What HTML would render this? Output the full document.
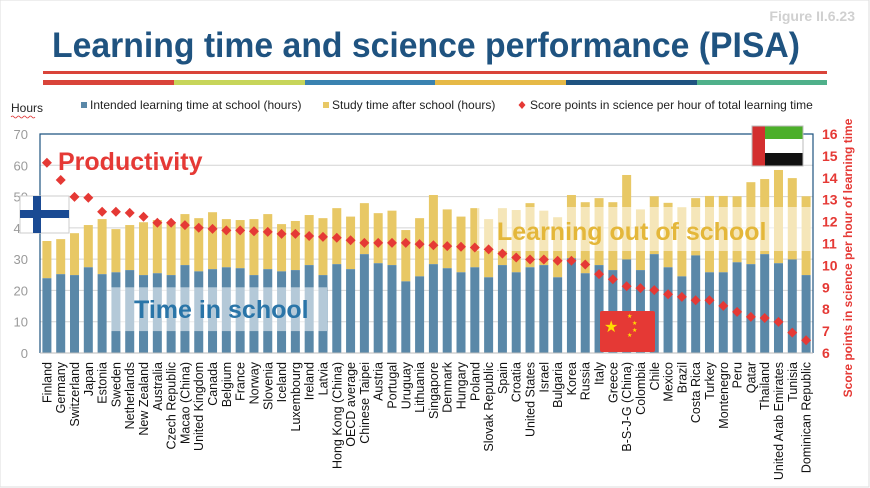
<!DOCTYPE html>
<html><head><meta charset="utf-8">
<style>
body{margin:0;background:#fff;width:870px;height:488px;overflow:hidden;font-family:"Liberation Sans",sans-serif}
svg{display:block}
</style></head>
<body>
<svg id="chart" width="870" height="488" xmlns="http://www.w3.org/2000/svg">
<rect x="0" y="0" width="869" height="487" fill="#fff" stroke="#ddd" stroke-width="1"/>
<text x="855" y="21" text-anchor="end" font-size="14" font-weight="bold" fill="#d0d0d0">Figure II.6.23</text>
<text x="52" y="57" font-size="35" font-weight="bold" fill="#1f5380" textLength="748" lengthAdjust="spacingAndGlyphs">Learning time and science performance (PISA)</text>
<rect x="43" y="71" width="784" height="3" fill="#d9443a"/>
<g>
<rect x="43" y="80" width="131" height="5" fill="#d9443a"/>
<rect x="174" y="80" width="131" height="5" fill="#c7d55a"/>
<rect x="305" y="80" width="130" height="5" fill="#3a82b0"/>
<rect x="435" y="80" width="131" height="5" fill="#e6b947"/>
<rect x="566" y="80" width="131" height="5" fill="#1f5380"/>
<rect x="697" y="80" width="130" height="5" fill="#4fb08a"/>
</g>
<text x="11" y="112" font-size="12" fill="#222">Hours</text>
<path d="M11 117 q1.5 -2 3 0 t3 0 t3 0 t3 0 t3 0 t3 0 t3 0 t3 0" stroke="#d33" fill="none" stroke-width="0.8"/>
<g font-size="12" fill="#222">
<rect x="81" y="102" width="6" height="6" fill="#5a88a8"/>
<text x="90" y="109">Intended learning time at school (hours)</text>
<rect x="323" y="102" width="6" height="6" fill="#e8c865"/>
<text x="332" y="109">Study time after school (hours)</text>
<path d="M522 101 l3.5 4 l-3.5 4 l-3.5 -4z" fill="#e53935"/>
<text x="530" y="109">Score points in science per hour of total learning time</text>
</g>
<g id="plot"></g>
</svg>
<script>
const countries=["Finland","Germany","Switzerland","Japan","Estonia","Sweden","Netherlands","New Zealand","Australia","Czech Republic","Macao (China)","United Kingdom","Canada","Belgium","France","Norway","Slovenia","Iceland","Luxembourg","Ireland","Latvia","Hong Kong (China)","OECD average","Chinese Taipei","Austria","Portugal","Uruguay","Lithuania","Singapore","Denmark","Hungary","Poland","Slovak Republic","Spain","Croatia","United States","Israel","Bulgaria","Korea","Russia","Italy","Greece","B-S-J-G (China)","Colombia","Chile","Mexico","Brazil","Costa Rica","Turkey","Montenegro","Peru","Qatar","Thailand","United Arab Emirates","Tunisia","Dominican Republic"];
const schoolHours=[23.9,25.2,24.9,27.4,25.2,25.8,26.5,24.9,25.5,24.9,28.1,26.1,26.8,27.4,27.1,24.9,26.8,26.1,26.5,28.1,24.9,28.4,26.8,31.6,28.7,28.1,22.9,24.5,28.4,27.1,25.8,27.4,24.2,28.1,25.8,27.4,28.1,24.2,30.3,25.5,28.1,26.5,29.9,26.5,31.6,27.4,24.5,31.2,25.8,25.8,29.0,28.4,31.6,28.7,29.9,24.9];
const totalHours=[35.8,36.4,38.3,40.9,42.8,39.6,40.9,41.8,42.5,41.8,44.4,43.1,45.0,42.8,42.5,42.8,44.4,41.2,42.2,44.1,43.1,46.3,43.6,47.9,44.7,45.5,39.3,43.1,50.5,45.9,43.6,46.3,42.8,46.3,45.7,47.9,45.5,43.4,50.5,48.2,49.5,48.2,56.9,45.9,50.1,48.0,46.6,49.5,50.2,50.2,50.1,54.6,55.6,58.5,55.9,50.1];
const scorePerHour=[14.69,13.9,13.13,13.09,12.45,12.45,12.4,12.22,11.95,11.95,11.84,11.72,11.67,11.6,11.6,11.56,11.53,11.44,11.44,11.34,11.3,11.26,11.15,11.03,11.03,11.03,11.03,10.97,10.92,10.88,10.85,10.82,10.73,10.54,10.36,10.27,10.27,10.21,10.21,10.04,9.6,9.37,9.05,8.96,8.87,8.68,8.56,8.41,8.41,8.15,7.88,7.65,7.6,7.42,6.93,6.58];
const leftTicks=[0,10,20,30,40,50,60,70];
const rightTicks=[6,7,8,9,10,11,12,13,14,15,16];

const NS="http://www.w3.org/2000/svg";
const g=document.getElementById('plot');
const X0=40,X1=813,YT=134,YB=353;
const step=(X1-X0)/countries.length;
const xc=i=>X0+step*(i+0.5);
const yL=v=>YB-(v-0)/(70-0)*(YB-YT);
const yR=v=>YB-(v-6)/(16-6)*(YB-YT);
function mk(tag,attrs,parent){const e=document.createElementNS(NS,tag);for(const k in attrs)e.setAttribute(k,attrs[k]);(parent||g).appendChild(e);return e;}

leftTicks.forEach(t=>{
  if(t>0&&t<70){const l=mk('line',{x1:X0,x2:X1,y1:yL(t),y2:yL(t),stroke:'#d4d4d4','stroke-width':1});
  
  }
  const tx=mk('text',{x:28,y:yL(t)+5,'text-anchor':'end','font-size':13,fill:'#9a9a9a'});
  tx.textContent=t;
  
  
});
rightTicks.forEach(t=>{
  const tx=mk('text',{x:822,y:yR(t)+5,'font-size':14,'font-weight':'bold',fill:'#e53935'});
  tx.textContent=t;
  
  
});
const bw=9;
countries.forEach((c,i)=>{
  const s=mk('rect',{x:xc(i)-bw/2,y:yL(totalHours[i]),width:bw,height:yL(schoolHours[i])-yL(totalHours[i]),fill:'#e8c865'});
  
  
  const b=mk('rect',{x:xc(i)-bw/2,y:yL(schoolHours[i]),width:bw,height:YB-yL(schoolHours[i]),fill:'#5a88a8'});
  
  
  const lb=mk('text',{transform:`translate(${xc(i)+4.5},362) rotate(-90)`,'text-anchor':'end','font-size':12.5,fill:'#111'});
  lb.textContent=c;
  
  
});
// overlays
const o1=mk('rect',{x:111,y:yL(21),width:216,height:yL(7)-yL(21),fill:'#fff',opacity:0.55});


const o2=mk('rect',{x:477,y:207,width:336,height:44,fill:'#fff',opacity:0.55});


countries.forEach((c,i)=>{
  const y=yR(scorePerHour[i]),x=xc(i);
  const d=mk('path',{d:`M${x} ${y-5} L${x+5} ${y} L${x} ${y+5} L${x-5} ${y}Z`,fill:'#e53935'});
  
  
});
// axes
const ax=mk('path',{d:`M${X0} ${YB} L${X0} ${YT} L${X1} ${YT} L${X1} ${YB}`,fill:'none',stroke:'#1f5380','stroke-width':1.2});


const bl=mk('line',{x1:X0,x2:X1,y1:YB,y2:YB,stroke:'#bbb'});


// annotations
const t1=mk('text',{x:58,y:170,'font-size':25,'font-weight':'bold',fill:'#e53935'});t1.textContent='Productivity';


const t2=mk('text',{x:134,y:318,'font-size':25,'font-weight':'bold',fill:'#2a75a8'});t2.textContent='Time in school';


const t3=mk('text',{x:497,y:240,'font-size':25,'font-weight':'bold',fill:'#e4b73a'});t3.textContent='Learning out of school';


const rt=mk('text',{transform:'translate(852,258) rotate(-90)','text-anchor':'middle','font-size':12,'font-weight':'bold',fill:'#e53935'});
rt.textContent='Score points in science per hour of learning time';


// flags
const ff=mk('g',{});


mk('rect',{x:20,y:196,width:49,height:37,fill:'#fff',stroke:'#ccc'},ff);
mk('rect',{x:33,y:196,width:8,height:37,fill:'#1a4a93'},ff);
mk('rect',{x:20,y:210,width:49,height:8,fill:'#1a4a93'},ff);
const uf=mk('g',{});


mk('rect',{x:765,y:126,width:38,height:13,fill:'#4caf2a'},uf);
mk('rect',{x:765,y:139,width:38,height:14,fill:'#fff'},uf);
mk('rect',{x:765,y:153,width:38,height:13,fill:'#111'},uf);
mk('rect',{x:752,y:126,width:13,height:40,fill:'#d32f2f'},uf);
mk('rect',{x:752,y:126,width:51,height:40,fill:'none',stroke:'#bbb'},uf);
const cf=mk('g',{});


mk('rect',{x:600,y:311,width:55,height:41,fill:'#e53935',rx:2},cf);
const st=mk('text',{x:604,y:332,'font-size':16,fill:'#ffde00'},cf);st.textContent='★';
[[627,318],[632,325],[632,332],[627,337]].forEach(p=>{const s=mk('text',{x:p[0],y:p[1],'font-size':6,fill:'#ffde00'},cf);s.textContent='★';});
</script>
</body></html>
